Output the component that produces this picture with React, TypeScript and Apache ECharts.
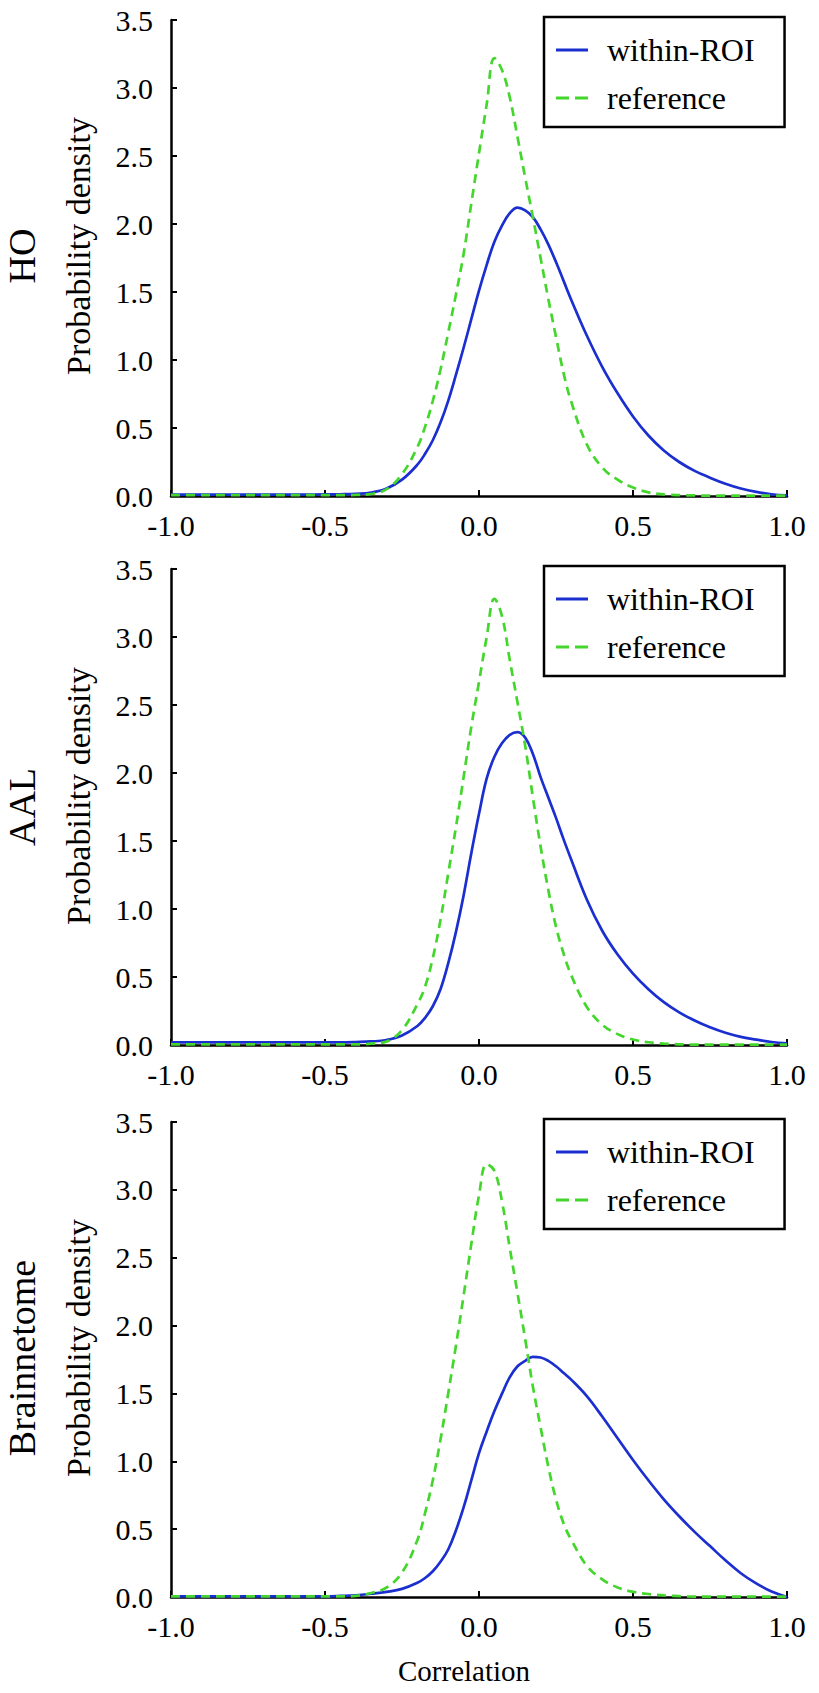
import React, { useEffect, useRef } from "react";
import * as echarts from "echarts";

// correlation grid (x values)
const corr = [
  -1, -0.9, -0.8, -0.7, -0.6, -0.5, -0.45, -0.4, -0.35, -0.3, -0.25, -0.2, -0.175, -0.15, -0.125, -0.1, -0.075,
  -0.05, -0.025, 0, 0.025, 0.05, 0.075, 0.1, 0.125, 0.15, 0.175, 0.2, 0.225, 0.25, 0.275, 0.3, 0.35, 0.4,
  0.45, 0.5, 0.55, 0.6, 0.65, 0.7, 0.75, 0.8, 0.85, 0.9, 0.95, 1.0,
];

const hoWithin = [
  0.01, 0.01, 0.01, 0.01, 0.01, 0.012, 0.013, 0.016, 0.025, 0.055, 0.12, 0.23, 0.31, 0.41, 0.54, 0.7, 0.89,
  1.09, 1.3, 1.51, 1.7, 1.87, 1.99, 2.08, 2.12, 2.1, 2.05, 1.96, 1.85, 1.72, 1.58, 1.44, 1.18, 0.95,
  0.755, 0.585, 0.445, 0.335, 0.25, 0.185, 0.135, 0.09, 0.055, 0.03, 0.013, 0.004,
];
const hoRef = [
  0.006, 0.006, 0.006, 0.006, 0.006, 0.006, 0.006, 0.008, 0.015, 0.05, 0.16, 0.36, 0.51, 0.7, 0.93, 1.2, 1.48,
  1.78, 2.15, 2.52, 2.88, 3.22, 3.13, 2.93, 2.64, 2.34, 2.05, 1.75, 1.45, 1.17, 0.9, 0.69, 0.38, 0.21,
  0.12, 0.062, 0.027, 0.012, 0.006, 0.004, 0.003, 0.003, 0.003, 0.003, 0.003, 0.003,
];
const aalWithin = [
  0.02, 0.02, 0.02, 0.02, 0.02, 0.02, 0.02, 0.022, 0.026, 0.037, 0.07, 0.14, 0.2, 0.285, 0.41, 0.6, 0.83,
  1.1, 1.41, 1.7, 1.96, 2.12, 2.22, 2.28, 2.3, 2.26, 2.14, 1.97, 1.82, 1.67, 1.51, 1.36, 1.07, 0.84,
  0.665, 0.525, 0.41, 0.315, 0.24, 0.18, 0.13, 0.09, 0.06, 0.04, 0.022, 0.013,
];
const aalRef = [
  0.005, 0.005, 0.005, 0.005, 0.005, 0.005, 0.005, 0.005, 0.01, 0.026, 0.11, 0.3, 0.43, 0.64, 0.92, 1.26, 1.6,
  1.97, 2.34, 2.67, 3.0, 3.28, 3.15, 2.83, 2.52, 2.2, 1.82, 1.46, 1.14, 0.87, 0.67, 0.51, 0.28, 0.15,
  0.08, 0.04, 0.02, 0.01, 0.005, 0.003, 0.003, 0.003, 0.003, 0.003, 0.003, 0.003,
];
const bnWithin = [
  0.005, 0.005, 0.005, 0.005, 0.005, 0.005, 0.008, 0.013, 0.024, 0.038, 0.06, 0.105, 0.14, 0.19, 0.26, 0.35, 0.49,
  0.66, 0.86, 1.06, 1.22, 1.37, 1.5, 1.62, 1.7, 1.74, 1.77, 1.765, 1.74, 1.7, 1.65, 1.6, 1.48, 1.33,
  1.17, 1.01, 0.86, 0.72, 0.595, 0.48, 0.375, 0.27, 0.175, 0.1, 0.04, 0.0,
];
const bnRef = [
  0.004, 0.004, 0.004, 0.004, 0.004, 0.004, 0.004, 0.008, 0.03, 0.07, 0.18, 0.42, 0.62, 0.86, 1.16, 1.5, 1.85,
  2.22, 2.6, 2.96, 3.19, 3.14, 2.91, 2.57, 2.24, 1.9, 1.55, 1.25, 0.96, 0.72, 0.54, 0.42, 0.23, 0.13,
  0.07, 0.038, 0.022, 0.012, 0.006, 0.003, 0.003, 0.003, 0.003, 0.003, 0.003, 0.003,
];

const atlasNames = ["HO", "AAL", "Brainnetome"];
const seriesNames = ["within-ROI", "reference"];
const yAxisTitle = "Probability density";
const xAxisTitle = "Correlation";

const BLUE = "#1b2fd0";
const GREEN = "#45d62e";
const FAMILY = "Liberation Serif";

export default function App() {
  const ref = useRef<HTMLDivElement>(null);

  useEffect(() => {
    if (!ref.current) return;
    const chart = echarts.init(ref.current, null, { renderer: "svg" });

    const panels = [
      { within: hoWithin, refd: hoRef },
      { within: aalWithin, refd: aalRef },
      { within: bnWithin, refd: bnRef },
    ];
    const tops = [20, 569, 1122];
    const heights = [476, 476, 475];
    const left = 171;
    const width = 616;

    const grid = panels.map((_, i) => ({ left, top: tops[i], width, height: heights[i] }));

    const labelStyle = { color: "#000", fontSize: 30, fontFamily: FAMILY };

    const xAxis = panels.map((_, i) => ({
      type: "value",
      gridIndex: i,
      min: -1,
      max: 1,
      interval: 0.5,
      axisLine: { show: true, onZero: false, lineStyle: { color: "#000", width: 2.5 } },
      axisTick: { show: true, inside: true, length: 6, lineStyle: { color: "#000", width: 2 } },
      axisLabel: {
        ...labelStyle,
        margin: 14,
        showMinLabel: true,
        showMaxLabel: true,
        formatter: (v: number) => v.toFixed(1),
      },
      splitLine: { show: false },
    }));

    const yAxis = panels.map((_, i) => ({
      type: "value",
      gridIndex: i,
      min: 0,
      max: 3.5,
      interval: 0.5,
      axisLine: { show: true, onZero: false, lineStyle: { color: "#000", width: 2.5 } },
      axisTick: { show: true, inside: true, length: 6, lineStyle: { color: "#000", width: 2 } },
      axisLabel: {
        ...labelStyle,
        margin: 18,
        formatter: (v: number) => v.toFixed(1),
      },
      splitLine: { show: false },
    }));

    const series: any[] = [];
    panels.forEach((p, i) => {
      series.push({
        type: "line",
        name: seriesNames[0],
        xAxisIndex: i,
        yAxisIndex: i,
        data: corr.map((x, j) => [x, p.within[j]]),
        symbol: "none",
        smooth: 0.4,
        lineStyle: { color: BLUE, width: 2.7 },
        itemStyle: { color: BLUE },
        z: 2,
      });
      series.push({
        type: "line",
        name: seriesNames[1],
        xAxisIndex: i,
        yAxisIndex: i,
        data: corr.map((x, j) => [x, p.refd[j]]),
        symbol: "none",
        smooth: 0.4,
        lineStyle: { color: GREEN, width: 2.7, type: [9, 6] },
        itemStyle: { color: GREEN },
        z: 3,
      });
    });

    const legend = panels.map((_, i) => ({
      orient: "vertical",
      left: 544,
      top: tops[i] - 3,
      data: [
        { name: seriesNames[0], icon: "rect" },
        { name: seriesNames[1], icon: "path://M0,0h13v3h-13zM19,0h13v3h-13z" },
      ],
      itemWidth: 32,
      itemHeight: 3,
      itemGap: 16,
      padding: [17, 30, 13, 12],
      borderColor: "#000",
      borderWidth: 2.5,
      selectedMode: false,
      textStyle: { fontSize: 32, fontFamily: FAMILY, color: "#000", padding: [0, 0, 0, 14] },
    }));

    const titleY = [246, 796, 1348];
    const atlasY = [256, 807, 1358];
    const graphic: any[] = [];
    titleY.forEach((y) => {
      graphic.push({
        type: "text",
        x: 78,
        y,
        rotation: Math.PI / 2,
        style: {
          text: yAxisTitle,
          font: `34px '${FAMILY}', serif`,
          fill: "#000",
          textAlign: "center",
          textVerticalAlign: "middle",
        },
      });
    });
    atlasY.forEach((y, i) => {
      graphic.push({
        type: "text",
        x: 22,
        y,
        rotation: Math.PI / 2,
        style: {
          text: atlasNames[i],
          font: `38px '${FAMILY}', serif`,
          fill: "#000",
          textAlign: "center",
          textVerticalAlign: "middle",
        },
      });
    });
    graphic.push({
      type: "text",
      x: 464,
      y: 1671,
      style: {
        text: xAxisTitle,
        font: `29px '${FAMILY}', serif`,
        fill: "#000",
        textAlign: "center",
        textVerticalAlign: "middle",
      },
    });

    chart.setOption({
      animation: false,
      backgroundColor: "#fff",
      textStyle: { fontFamily: FAMILY },
      grid,
      xAxis,
      yAxis,
      legend,
      series,
      graphic,
    });

    return () => {
      chart.dispose();
    };
  }, []);

  return (
    <div
      ref={ref}
      style={{ position: "absolute", left: 0, top: 0, width: 819, height: 1693 }}
    />
  );
}
